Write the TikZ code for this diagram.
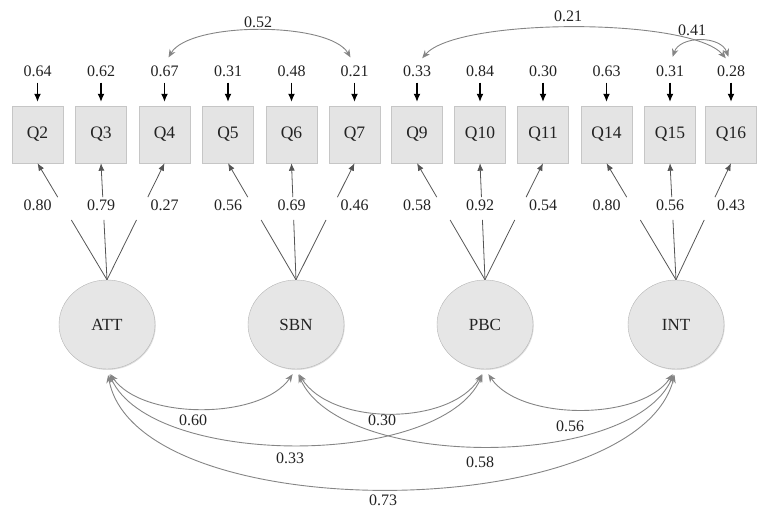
\documentclass[tikz,border=0pt]{standalone}
\usepackage{fontspec}
\setmainfont{Liberation Serif}
\usetikzlibrary{calc,arrows.meta,shapes.geometric,shadows}
\definecolor{boxfill}{HTML}{E4E4E4}
\definecolor{boxline}{HTML}{C6C6C6}
\definecolor{ellfill}{HTML}{E6E6E6}
\definecolor{ellline}{HTML}{B4B4B4}
\definecolor{covline}{HTML}{858585}
\definecolor{loadline}{HTML}{555555}
\definecolor{txt}{HTML}{222222}
\begin{document}
\begin{tikzpicture}[x=1pt,y=-1pt,
  item/.style={draw=boxline, fill=boxfill, minimum width=51pt, minimum height=57pt, inner sep=0pt,
    font=\fontsize{17.5}{20}\selectfont, text=txt,
    drop shadow={shadow xshift=0.8pt, shadow yshift=-0.8pt, opacity=0.25}},
  factor/.style={ellipse, draw=ellline, fill=ellfill, minimum width=96pt, minimum height=89pt, inner sep=0pt,
    font=\fontsize{17}{20}\selectfont, text=txt,
    drop shadow={shadow xshift=0.8pt, shadow yshift=-1pt, opacity=0.25}},
  lab/.style={font=\fontsize{16}{18}\selectfont, inner sep=1pt, text=txt},
  errarr/.style={-{Latex[length=8pt,width=7pt]}, line width=1.2pt, black, shorten <=5pt, shorten >=4pt},
  loadln/.style={loadline, line width=0.8pt},
  loadarr/.style={-{Latex[length=7.5pt,width=6pt]}, loadline, line width=0.8pt},
  covtop/.style={{Stealth[length=8pt,width=6.5pt]}-{Stealth[length=8pt,width=6.5pt]}, covline, line width=0.9pt, shorten <=8pt, shorten >=8pt},
  covbot/.style={{Stealth[length=8pt,width=6.5pt]}-{Stealth[length=8pt,width=6.5pt]}, covline, line width=0.9pt, shorten <=6pt, shorten >=6pt}
]
\useasboundingbox (0,0) rectangle (757,510);

\foreach \x/\n/\e/\l in {37.5/2/0.64/0.80, 101/3/0.62/0.79, 164.5/4/0.67/0.27, 228/5/0.31/0.56,
    291.5/6/0.48/0.69, 354.5/7/0.21/0.46, 417/9/0.33/0.58, 480/10/0.84/0.92,
    543/11/0.30/0.54, 606.5/14/0.63/0.80, 670/15/0.31/0.56, 731/16/0.28/0.43} {
  \node[item] (Q\n) at (\x,134.5) {Q\n};
  \node[lab] (e\n) at (\x,71) {\e};
  \node[lab] (l\n) at (\x,205) {\l};
  \draw[errarr] (e\n.south) -- (Q\n.north);
}

\node[factor] (ATT) at (107,324.5) {ATT};
\node[factor] (SBN) at (296,324.5) {SBN};
\node[factor] (PBC) at (485,324.5) {PBC};
\node[factor] (INT) at (676,324.5) {INT};

\foreach \f/\q in {ATT/2, ATT/3, ATT/4, SBN/5, SBN/6, SBN/7, PBC/9, PBC/10, PBC/11, INT/14, INT/15, INT/16} {
  \draw[loadln] (\f.north) -- ($(\f.north)!0.513!(Q\q.south)$);
  \draw[loadarr] ($(\f.north)!0.709!(Q\q.south)$) -- (Q\q.south);
}

% covariances between errors
\draw[covtop] (e4.north) .. controls +(25,-43) and +(-25,-43) .. (e7.north);
\draw[covtop] (e9.north) .. controls +(40,-47) and +(-40,-47) .. (e16.north);
\draw[covtop] (e15.north) .. controls +(10,-29) and +(-10,-29) .. (e16.north);
\node[lab] (c52) at (258,22) {0.52};
\node[lab] (c21) at (568,16) {0.21};
\node[lab] (c41) at (692,30) {0.41};

% covariances between factors
\draw[covbot] (ATT.south) .. controls +(35,51) and +(-35,51) .. (SBN.south);
\draw[covbot] (SBN.south) .. controls +(35,57) and +(-35,57) .. (PBC.south);
\draw[covbot] (ATT.south) .. controls +(45,99) and +(-45,99) .. (PBC.south);
\draw[covbot] (SBN.south) .. controls +(45,101) and +(-45,101) .. (INT.south);
\draw[covbot] (PBC.south) .. controls +(35,52) and +(-35,52) .. (INT.south);
\draw[covbot] (ATT.south) .. controls +(30,160) and +(-40,156) .. (INT.south);
\node[lab] (c60) at (193,420) {0.60};
\node[lab] (c30) at (382,420) {0.30};
\node[lab] (c33) at (290,458) {0.33};
\node[lab] (c56) at (570,426) {0.56};
\node[lab] (c58) at (480,462) {0.58};
\node[lab] (c73) at (383,500) {0.73};
\end{tikzpicture}
\end{document}
